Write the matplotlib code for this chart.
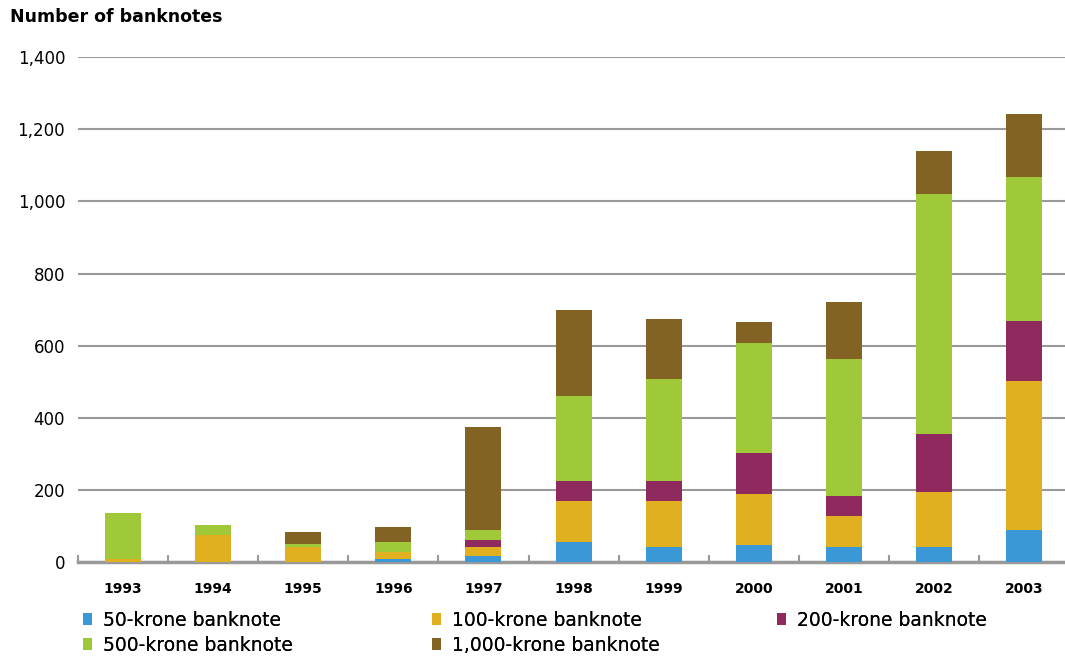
import numpy as np
import matplotlib
matplotlib.use('Agg')
import matplotlib.pyplot as plt

# Banknotes by denomination and year
years = ['1993', '1994', '1995', '1996', '1997', '1998',
         '1999', '2000', '2001', '2002', '2003']
kr50 = [0, 0, 0, 10, 19, 56, 43, 49, 44, 44, 90]
kr100 = [9, 76, 43, 20, 23, 114, 127, 141, 86, 152, 412]
kr200 = [0, 0, 0, 0, 21, 56, 56, 112, 55, 161, 166]
kr500 = [127, 27, 7, 26, 27, 234, 282, 306, 378, 664, 399]
kr1000 = [0, 0, 34, 41, 285, 240, 165, 59, 159, 120, 174]

series = [kr50, kr100, kr200, kr500, kr1000]
labels = ['50-krone banknote', '100-krone banknote', '200-krone banknote',
          '500-krone banknote', '1,000-krone banknote']
cols = ['#3A98D6', '#E1B020', '#902A5E', '#A0C93A', '#836323']

W, H = 1065., 659.
fig = plt.figure(figsize=(W/100, H/100), dpi=100)
ax = fig.add_axes([0.073, 0.1465, 0.927, 0.767])

x = np.arange(len(years))
bottom = np.zeros(len(years))
bars = []
for vals, lab, c in zip(series, labels, cols):
    b = ax.bar(x, vals, 0.4, bottom=bottom, color=c, label=lab, zorder=3)
    bars.append(b)
    bottom = bottom + np.array(vals)

ax.set_xlim(-0.5, 10.45)
ax.set_ylim(0, 1400)
ax.set_yticks(np.arange(0, 1401, 200))
ax.set_yticklabels(['{:,}'.format(v) for v in range(0, 1401, 200)], fontsize=12)
ax.yaxis.grid(True, color='#999999', linewidth=1.5, zorder=0)
ax.tick_params(axis='y', length=0, pad=9)

ax.set_xticks(x)
ax.set_xticklabels(years, fontsize=10, fontweight='bold')
ax.tick_params(axis='x', length=0, pad=14)
# small marks between categories
ax.set_xticks(np.arange(-0.5, 10.5, 1), minor=True)
ax.tick_params(axis='x', which='minor', direction='in', length=5, width=1.5, color='#999999')

for s in ['top', 'right', 'left']:
    ax.spines[s].set_visible(False)
ax.spines['bottom'].set_color('#999999')
ax.spines['bottom'].set_linewidth(2.5)

fig.text(10/W, 1 - 17/H, 'Number of banknotes', fontsize=12.5, fontweight='bold', va='center')

# one legend per column, read across the rows
groups = [[0, 3], [1, 4], [2]]
xs = [83, 432, 777]
for g, xp in zip(groups, xs):
    lg = fig.legend([bars[i] for i in g], [labels[i] for i in g],
                    loc='upper left', bbox_to_anchor=(xp/W, 1 - 611/H),
                    frameon=False, borderpad=0, borderaxespad=0,
                    fontsize=13.5, handlelength=0.5, handleheight=0.6,
                    handletextpad=0.55, labelspacing=0.3)
    fig.add_artist(lg)

fig.savefig('out.png', dpi=100)
